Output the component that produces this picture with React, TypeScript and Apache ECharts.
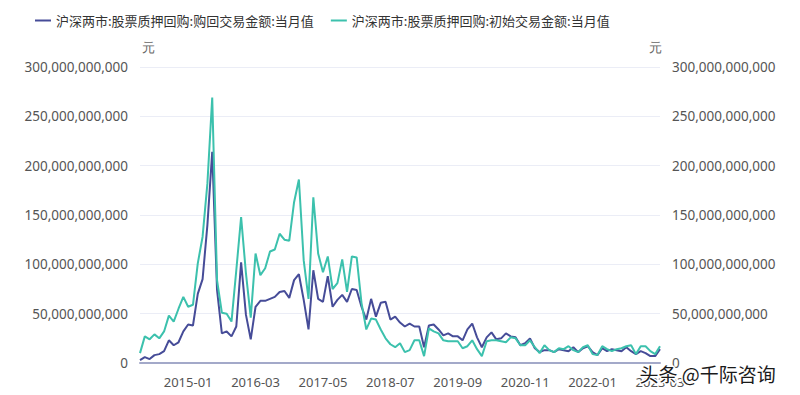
import React, { useEffect, useRef } from "react";
import * as echarts from "echarts";

const START_YEAR = 2014;
const START_MONTH = 3;
const COUNT = 109;
const months: string[] = [];
for (let i = 0; i < COUNT; i++) {
  const m = START_MONTH - 1 + i;
  const y = START_YEAR + Math.floor(m / 12);
  const mm = (m % 12) + 1;
  months.push(`${y}-${mm < 10 ? "0" + mm : mm}`);
}

const seriesNames = [
  "沪深两市:股票质押回购:购回交易金额:当月值",
  "沪深两市:股票质押回购:初始交易金额:当月值",
];

// values in billions of 元
const repurchaseB = [
  3, 6, 4, 8, 9, 12, 23, 18, 21, 32, 39, 38, 70, 85, 140, 214,
  74, 30, 32, 27, 37, 102, 49, 24, 57, 63, 63, 65, 67, 72, 73, 66, 84, 90, 64, 34,
  94, 65, 62, 88, 57, 64, 69, 62, 75, 74, 57, 44, 65, 47, 61, 62, 44, 47, 41, 37,
  40, 37, 37, 16, 38, 39, 34, 28, 30, 27, 27, 23, 34, 40, 26, 16, 26, 31, 24, 25,
  30, 27, 26, 18, 20, 25, 15, 11, 13, 13, 11, 14, 13, 12, 16, 11, 15, 17, 11, 8,
  15, 12, 14, 13, 12, 16, 12, 9, 12, 10, 7, 7, 14,
];

const initialB = [
  10, 27, 24, 29, 25, 32, 48, 42, 55, 67, 57, 59, 101, 128, 182, 269,
  84, 51, 50, 42, 94, 148, 91, 46, 111, 89, 96, 113, 115, 131, 125, 124, 163, 186, 104, 65,
  168, 111, 92, 108, 75, 81, 105, 72, 108, 107, 61, 34, 45, 44, 34, 25, 19, 16, 20, 11,
  13, 23, 23, 7, 35, 32, 30, 23, 22, 22, 22, 15, 17, 23, 14, 7, 22, 23, 23, 22,
  21, 26, 25, 18, 18, 23, 16, 10, 18, 13, 11, 15, 14, 17, 13, 11, 16, 18, 9, 8,
  17, 14, 12, 14, 15, 17, 18, 9, 17, 17, 12, 9, 17,
];

const repurchase = repurchaseB.map((v) => v * 1e9);
const initial = initialB.map((v) => v * 1e9);

const colors = ["#464c98", "#3cc1ad"];

export default function App() {
  const ref = useRef<HTMLDivElement>(null);
  useEffect(() => {
    if (!ref.current) return;
    const chart = echarts.init(ref.current, undefined, { renderer: "svg" });
    const fmt = (v: number) => Math.round(v).toLocaleString("en-US");
    const yAxisCommon = {
      type: "value" as const,
      min: 0,
      max: 300e9,
      interval: 50e9,
      name: "元",
      nameGap: 14,
      axisLine: { show: false },
      axisTick: { show: false },
      axisLabel: {
        color: "#555",
        fontSize: 13.5,
        margin: 12,
        formatter: fmt,
        fontFamily: "Noto Sans",
      },
    };
    chart.setOption({
      animation: false,
      color: colors,
      textStyle: { fontFamily: "Noto Sans" },
      legend: {
        left: 30,
        top: 9,
        itemWidth: 16,
        itemHeight: 2,
        itemGap: 17,
        icon: "rect",
        textStyle: { color: "#333", fontSize: 13, fontFamily: "Noto Sans CJK SC" },
        data: seriesNames,
      },
      grid: { left: 140, right: 140, top: 67, bottom: 32 },
      xAxis: {
        type: "category",
        boundaryGap: false,
        data: months,
        axisLine: { lineStyle: { color: "#a3a9c9", width: 2 } },
        axisTick: { show: false },
        axisLabel: {
          color: "#555",
          fontSize: 13,
          margin: 12,
          interval: (idx: number) => idx >= 10 && (idx - 10) % 14 === 0,
        },
      },
      yAxis: [
        {
          ...yAxisCommon,
          position: "left",
          nameTextStyle: { color: "#666", fontSize: 13, padding: [0, 0, 0, 16] },
          splitLine: { lineStyle: { color: "#ebedf6", width: 1 } },
        },
        {
          ...yAxisCommon,
          position: "right",
          nameTextStyle: { color: "#666", fontSize: 13, padding: [0, 10, 0, 0] },
          splitLine: { show: false },
        },
      ],
      series: [
        {
          name: seriesNames[0],
          type: "line",
          yAxisIndex: 0,
          data: repurchase,
          symbol: "none",
          lineStyle: { width: 2, color: colors[0] },
          itemStyle: { color: colors[0] },
        },
        {
          name: seriesNames[1],
          type: "line",
          yAxisIndex: 1,
          data: initial,
          symbol: "none",
          lineStyle: { width: 2, color: colors[1] },
          itemStyle: { color: colors[1] },
        },
      ],
      graphic: [
        {
          type: "text",
          left: 638,
          top: 362,
          z: 100,
          style: {
            text: "头条 @千际咨询",
            fill: "#1a1a1a",
            fontSize: 19,
            fontFamily: "Noto Sans CJK SC",
            stroke: "#ffffff",
            lineWidth: 3,
          },
        },
      ],
    });
    return () => chart.dispose();
  }, []);
  return <div ref={ref} style={{ width: 800, height: 395, marginLeft: -8, marginTop: -8 }} />;
}
